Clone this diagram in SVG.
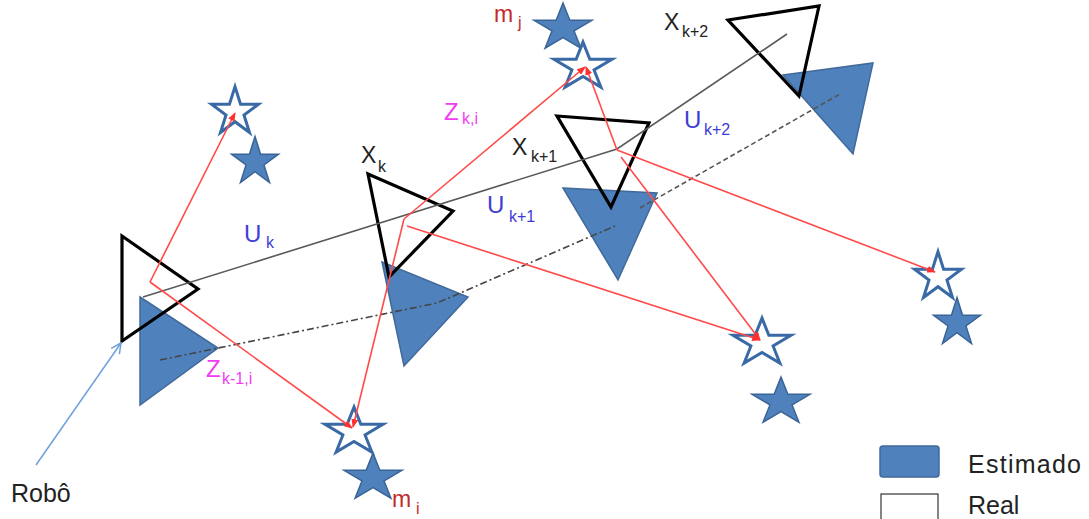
<svg xmlns="http://www.w3.org/2000/svg" xmlns:xlink="http://www.w3.org/1999/xlink" width="1089" height="519" viewBox="0 0 1089 519">
<style>
.est{fill:#4f81bd;stroke:#41699a;stroke-width:1.5;stroke-linejoin:miter}
.real{fill:none;stroke:#000;stroke-width:3.2;stroke-linejoin:miter}
.sf{fill:#4f81bd;stroke:#3a6496;stroke-width:1.5}
.so{fill:#fff;stroke:#3a6aa6;stroke-width:3}
.red{fill:none;stroke:#ff4a4a;stroke-width:1.6;marker-end:url(#ra)}
.traj{fill:none;stroke:#5a5a5a;stroke-width:1.6}
.dd{fill:none;stroke:#444;stroke-width:1.6;stroke-dasharray:7 3 2 3}
.ds{fill:none;stroke:#555;stroke-width:1.6;stroke-dasharray:5 3}
text{font-family:"Liberation Sans",Arial,sans-serif}
.lx{fill:#222;font-size:23px}
.lu{fill:#3d3dd6;font-size:24px}
.lz{fill:#f23cf2;font-size:24px}
.lm{fill:#c22a2a;font-size:23px}
.sub{font-size:16px}
.lg{fill:#222;font-size:25px}
</style>
<defs>
<marker id="ra" viewBox="0 0 10 8" refX="9" refY="4" markerWidth="9" markerHeight="7" markerUnits="userSpaceOnUse" orient="auto">
<path d="M0,0 L10,4 L0,8 Z" fill="#ff3030"/>
</marker>
<marker id="ba" viewBox="0 0 12 12" refX="11" refY="6" markerWidth="12" markerHeight="12" markerUnits="userSpaceOnUse" orient="auto">
<path d="M1,1 L11,6 L1,11" fill="none" stroke="#6fa0dc" stroke-width="1.5"/>
</marker>
<path id="sn" d="M0,-25.4 L5.55,-7.85 L23.49,-7.85 L8.97,3 L14.52,20.55 L0,9.7 L-14.52,20.55 L-8.97,3 L-23.49,-7.85 L-5.55,-7.85 Z"/>
<path id="sw" d="M0,-24.9 L6.85,-7.69 L29.01,-7.69 L11.08,2.94 L17.93,20.14 L0,9.51 L-17.93,20.14 L-11.08,2.94 L-29.01,-7.69 L-6.85,-7.69 Z"/>
</defs>
<rect x="0" y="0" width="1089" height="519" fill="#fff"/>

<g id="estimated-poses">
<polygon id="est-k-1" class="est" points="140,297 218,348 140,405"/>
<polygon id="est-k" class="est" points="382,262 468,297 404,366"/>
<polygon id="est-k+1" class="est" points="563,188 657,193 618,280"/>
<polygon id="est-k+2" class="est" points="783,75 873,63 853,154"/>
</g>

<g id="estimated-trajectory">
<polyline class="dd" points="160,360 437,303 615,226"/>
<line class="ds" x1="640" y1="208" x2="840" y2="94"/>
</g>

<g id="real-poses">
<polygon id="real-k-1" class="real" points="122,236 198,289 122,341"/>
<polygon id="real-k" class="real" points="368,174 453,211 389,277"/>
<polygon id="real-k+1" class="real" points="557,116 649,123 611,207"/>
<polygon id="real-k+2" class="real" points="728,20 819,6 799,96"/>
</g>

<g id="landmarks">
<g id="landmark-a"><use href="#sn" class="so" x="235" y="112"/><use href="#sn" class="sf" x="255" y="162"/></g>
<g id="landmark-j"><use href="#sw" class="sf" x="563" y="28"/><use href="#sw" class="so" x="583" y="67"/></g>
<g id="landmark-i"><use href="#sw" class="so" x="354" y="432"/><use href="#sw" class="sf" x="373" y="478"/></g>
<g id="landmark-r1"><use href="#sw" class="so" x="762" y="343"/><use href="#sw" class="sf" x="781" y="402"/></g>
<g id="landmark-r2"><use href="#sn" class="so" x="938" y="277"/><use href="#sn" class="sf" x="957" y="323"/></g>
</g>

<g id="connectors">
<polyline class="traj" points="143,297 617,149 787,34"/>
<line class="red" x1="150" y1="282" x2="235" y2="113"/>
<line class="red" x1="150" y1="282" x2="352" y2="428"/>
<line class="red" x1="404" y1="219" x2="585" y2="67"/>
<line class="red" x1="404" y1="219" x2="353" y2="427"/>
<line class="red" x1="407" y1="226" x2="760" y2="340"/>
<line class="red" x1="617" y1="150" x2="586" y2="67"/>
<line class="red" x1="617" y1="150" x2="935" y2="272"/>
<line class="red" x1="621" y1="157" x2="760" y2="340"/>
<line x1="36" y1="465" x2="121" y2="343" stroke="#6fa0dc" stroke-width="1.5" marker-end="url(#ba)"/>
</g>

<g id="labels">
<text class="lx" x="361" y="163">X<tspan class="sub" x="378" y="172">k</tspan></text>
<text class="lx" x="512" y="155">X<tspan class="sub" x="531" y="162">k+1</tspan></text>
<text class="lx" x="664" y="30">X<tspan class="sub" x="682" y="37">k+2</tspan></text>
<text class="lu" x="244" y="242">U<tspan class="sub" x="266" y="248">k</tspan></text>
<text class="lu" x="487" y="213">U<tspan class="sub" x="509" y="222">k+1</tspan></text>
<text class="lu" x="684" y="128">U<tspan class="sub" x="704" y="135">k+2</tspan></text>
<text class="lz" x="444" y="120">Z<tspan class="sub" x="462" y="124">k,i</tspan></text>
<text class="lz" x="206" y="377">Z<tspan class="sub" x="222" y="384">k-1,i</tspan></text>
<text class="lm" x="494" y="22">m<tspan class="sub" x="518" y="28">j</tspan></text>
<text class="lm" x="392" y="507">m<tspan class="sub" x="416" y="514">i</tspan></text>
<text class="lg" x="11" y="502">Robô</text>
</g>

<g id="legend">
<rect x="880" y="446" width="59" height="31" rx="3" fill="#4f81bd" stroke="#41699a" stroke-width="1.5"/>
<text class="lg" x="968" y="473" textLength="113" lengthAdjust="spacing">Estimado</text>
<rect x="881" y="494" width="57" height="30" fill="#fff" stroke="#444" stroke-width="1.3"/>
<text class="lg" x="968" y="514">Real</text>
</g>
</svg>
